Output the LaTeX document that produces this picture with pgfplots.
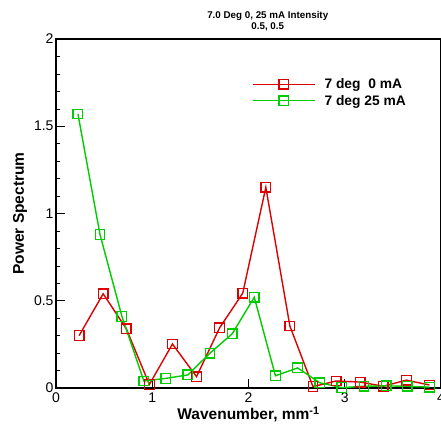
\documentclass[border=0pt]{standalone}
\usepackage{fontspec}
\setmainfont{Liberation Sans}
\usepackage{pgfplots}
\pgfplotsset{compat=1.18}
\usetikzlibrary{calc}
\definecolor{tred}{RGB}{220,0,0}
\definecolor{tgreen}{RGB}{0,204,0}
\begin{document}
\begin{tikzpicture}[x=1pt,y=1pt]
\begin{axis}[name=ax,
  scale only axis, width=385pt, height=349pt,
  xmin=0, xmax=4, ymin=0, ymax=2,
  xtick={0,1,2,3,4}, ytick={0,0.5,1,1.5,2},
  minor y tick num=4,
  tick align=inside, major tick length=9pt, minor tick length=4pt,
  every major tick/.style={line width=1.4pt,black},
  every minor tick/.style={line width=0.5pt,black},
  xtick pos=bottom, ytick pos=left,
  axis line style={line width=2pt},
  /pgf/number format/assume math mode=true,
  tick label style={font=\fontsize{14}{16}\selectfont},
  yticklabel style={xshift=1pt},
  xticklabel style={yshift=-1pt},
  xlabel={\textbf{Wavenumber, mm\textsuperscript{-1}}},
  ylabel={\textbf{Power Spectrum}},
  label style={font=\fontsize{15.5}{17}\selectfont},
  xlabel style={yshift=2pt},
  ylabel style={yshift=0pt},
  legend style={draw=none, fill=none, at={(0.509,0.893)}, anchor=north west,
    font=\bfseries\fontsize{13.8}{15}\selectfont, row sep=1pt, inner sep=0pt,
    /tikz/every odd column/.append style={column sep=7pt}},
  legend cell align=left,
  legend image code/.code={
    \draw[mark repeat=2,mark phase=2] plot coordinates {(0pt,0pt) (31pt,0pt) (62pt,0pt)};},
  clip=false,
]
\addplot[tred, line width=1.4pt, mark=square, mark size=4.8pt, mark options={line width=1.3pt}] coordinates {
(0.24,0.30) (0.49,0.54) (0.73,0.34) (0.97,0.02) (1.21,0.252) (1.46,0.065)
(1.70,0.345) (1.94,0.543) (2.18,1.15) (2.43,0.355) (2.67,0.008) (2.91,0.04)
(3.16,0.034) (3.40,0.01) (3.64,0.045) (3.88,0.017)};
\addlegendentry{7 deg\ \ 0 mA}
\addplot[tgreen, line width=1.4pt, mark=square, mark size=4.8pt, mark options={line width=1.3pt}] coordinates {
(0.228,1.57) (0.457,0.88) (0.685,0.41) (0.913,0.04) (1.14,0.055) (1.37,0.075)
(1.60,0.20) (1.83,0.31) (2.06,0.52) (2.28,0.07) (2.51,0.115) (2.74,0.03)
(2.97,0.002) (3.20,0.01) (3.43,0.012) (3.65,0.01) (3.88,0.005)};
\addlegendentry{7 deg 25 mA}
\node[font=\bfseries\fontsize{9.8}{11.5}\selectfont, align=center, anchor=south, yshift=4pt] at (rel axis cs:0.55,1) {7.0 Deg 0, 25 mA Intensity\\0.5, 0.5};
\end{axis}
\pgfresetboundingbox
\path ($(ax.south west)+(-56pt,-36pt)$) rectangle ($(ax.north east)+(0pt,39pt)$);
\end{tikzpicture}
\end{document}
